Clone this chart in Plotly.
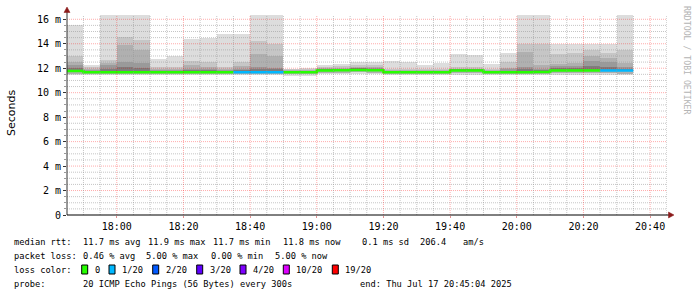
import plotly.graph_objects as go
import pandas as pd

# ---------------- data ----------------
day = "2025-07-17"
slot_start = ["17:45", "17:50", "17:55", "18:00", "18:05", "18:10", "18:15", "18:20",
              "18:25", "18:30", "18:35", "18:40", "18:45", "18:50", "18:55", "19:00",
              "19:05", "19:10", "19:15", "19:20", "19:25", "19:30", "19:35", "19:40",
              "19:45", "19:50", "19:55", "20:00", "20:05", "20:10", "20:15", "20:20",
              "20:25", "20:30"]

# smoke levels (milliseconds), outermost to innermost
ping_max = [15.51, 12.24, 17.5, 17.5, 17.5, 12.78, 13.00, 14.42, 14.50, 14.80, 14.80, 17.5,
            17.5, 11.96, 12.00, 12.30, 12.37, 12.50, 12.50, 12.57, 12.50, 12.24, 12.43,
            13.16, 13.06, 12.37, 13.22, 17.5, 17.5, 14.00, 14.00, 14.00, 14.00, 17.5]
ping_p2 = [12.97, 12.10, 12.70, 14.55, 14.28, 12.10, 12.10, 12.57, 12.50, 12.10, 12.50, 14.23,
           13.96, 11.90, 11.90, 12.10, 12.15, 12.30, 12.30, 11.95, 11.95, 11.95, 11.95,
           12.10, 12.10, 11.95, 12.50, 13.96, 13.96, 13.19, 13.27, 13.46, 13.22, 13.50]
ping_p3 = [12.50, 11.95, 12.45, 13.87, 13.50, 11.95, 11.95, 12.24, 12.10, 11.95, 12.15, 13.16,
           13.00, 11.85, 11.85, 12.00, 12.00, 12.10, 12.10, 11.85, 11.85, 11.85, 11.85,
           11.97, 11.97, 11.85, 12.05, 13.33, 12.24, 12.37, 12.43, 13.00, 12.80, 12.43]
ping_p4 = [12.30, 11.85, 12.24, 12.51, 12.43, 11.85, 11.85, 11.95, 11.95, 11.85, 11.95, 12.10,
           12.05, 11.80, 11.80, 11.95, 11.95, 12.00, 12.00, 11.80, 11.80, 11.80, 11.80,
           11.92, 11.92, 11.80, 11.90, 12.10, 11.95, 12.15, 12.15, 12.57, 12.50, 12.10]
ping_p5 = [12.00, 11.80, 11.95, 12.10, 12.05, 11.80, 11.80, 11.85, 11.85, 11.80, 11.85, 11.95,
           11.90, 11.75, 11.75, 11.90, 11.90, 11.95, 11.95, 11.75, 11.75, 11.75, 11.75,
           11.88, 11.88, 11.75, 11.80, 11.90, 11.85, 12.00, 12.00, 12.16, 12.10, 11.95]
ping_low = [11.55, 11.55, 11.55, 11.55, 11.55, 11.55, 11.55, 11.55, 11.55, 11.55, 11.55, 11.55,
            11.55, 11.52, 11.52, 11.62, 11.62, 11.65, 11.62, 11.55, 11.55, 11.55, 11.55,
            11.60, 11.60, 11.55, 11.55, 11.55, 11.55, 11.60, 11.60, 11.60, 11.60, 11.55]
ping_min = [11.42, 11.42, 11.42, 11.42, 11.42, 11.42, 11.42, 11.42, 11.42, 11.42, 11.42, 11.42,
            11.42, 11.38, 11.38, 11.50, 11.50, 11.52, 11.52, 11.42, 11.42, 11.42, 11.42,
            11.45, 11.45, 11.42, 11.42, 11.42, 11.42, 11.45, 11.45, 11.45, 11.45, 11.42]
median_rtt = [11.77, 11.68, 11.68, 11.68, 11.68, 11.68, 11.68, 11.68, 11.68, 11.68, 11.68, 11.68,
              11.68, 11.68, 11.66, 11.82, 11.84, 11.86, 11.84, 11.68, 11.68, 11.68, 11.68,
              11.81, 11.81, 11.68, 11.68, 11.68, 11.70, 11.81, 11.81, 11.81, 11.81, 11.81]
loss_count = [0, 0, 0, 0, 0, 0, 0, 0, 0, 0, 1, 1,
              1, 0, 0, 0, 0, 0, 0, 0, 0, 0, 0,
              0, 0, 0, 0, 0, 0, 0, 0, 0, 1, 1]

smoke_colors = ["#dddddd", "#c6c6c6", "#b0b0b0", "#9a9a9a", "#7e7e7e"]

loss_levels = [0, 1, 2, 3, 4, 10, 19]
loss_labels = ["0", "1/20", "2/20", "3/20", "4/20", "10/20", "19/20"]
loss_colors = ["#26ff00", "#00b8ff", "#0059ff", "#5e00ff", "#7e00ff", "#dd00ff", "#ff0000"]

y_tick_vals = [0, 2, 4, 6, 8, 10, 12, 14, 16]
y_tick_text = ["0", "2 m", "4 m", "6 m", "8 m", "10 m", "12 m", "14 m", "16 m"]

stats_line1 = ["median rtt:", "11.7 ms avg", "11.9 ms max", "11.7 ms min", "11.8 ms now",
               "0.1 ms sd", "206.4", "am/s"]
stats_line2 = ["packet loss:", "0.46 % avg", "5.00 % max", "0.00 % min", "5.00 % now"]
probe_line = ["probe:", "20 ICMP Echo Pings (56 Bytes) every 300s", "end: Thu Jul 17 20:45:04 2025"]

# ---------------- layout helpers ----------------
W, H = 697, 297
L, R, T, B = 67, 30, 15, 82
PW, PH = W - L - R, H - T - B


def px(xp):
    return (xp - L) / PW


def py(yp):
    return (H - B - yp) / PH


starts = pd.to_datetime([f"{day} {s}" for s in slot_start])
step = pd.Timedelta(minutes=5)
centers = starts + step / 2
x_start = pd.Timestamp(f"{day} 17:45:04")
x_end = pd.Timestamp(f"{day} 20:45:04")

fig = go.Figure()

# smoke layers
layers = [(ping_min, ping_max), (ping_low, ping_p2), (ping_low, ping_p3),
          (median_rtt, ping_p4), (median_rtt, ping_p5)]
for (lo, hi), col in zip(layers, smoke_colors):
    fig.add_trace(go.Bar(
        x=centers, base=lo, y=[h - l for h, l in zip(hi, lo)],
        width=step.total_seconds() * 1000,
        marker=dict(color=col, line=dict(width=0)),
        hoverinfo="skip", showlegend=False))

# median line coloured by loss
n = len(starts)
for lvl, col in zip(loss_levels, loss_colors):
    xs, ys = [], []
    i = 0
    while i < n:
        if loss_count[i] == lvl:
            j = i
            while j + 1 < n and loss_count[j + 1] == lvl:
                j += 1
            for k in range(i, j + 1):
                xs.append(starts[k])
                ys.append(median_rtt[k])
            xs.append(starts[j] + step)
            ys.append(median_rtt[j])
            xs.append(None)
            ys.append(None)
            i = j + 1
        else:
            i += 1
    if xs:
        fig.add_trace(go.Scatter(x=xs, y=ys, mode="lines", line=dict(color=col, width=2.5, shape="hv"),
                                 hoverinfo="skip", showlegend=False, connectgaps=False))

shapes = []
# grid (drawn above the smoke like rrdtool)
minor_c = "rgba(150,150,150,0.55)"
major_c = "rgba(255,0,0,0.33)"
dash = "1px,1px"
yv = 0.5
while yv <= 16.3:
    if abs(yv % 2) > 1e-9:
        shapes.append(dict(type="line", xref="paper", yref="y", x0=0, x1=1, y0=yv, y1=yv,
                           line=dict(color=minor_c, width=1, dash=dash), layer="above"))
    yv += 0.5
for v in y_tick_vals[1:]:
    shapes.append(dict(type="line", xref="paper", yref="y", x0=0, x1=1, y0=v, y1=v,
                       line=dict(color=major_c, width=1, dash=dash), layer="above"))
t = pd.Timestamp(f"{day} 17:50")
while t <= x_end:
    major = (t.minute % 20 == 0)
    shapes.append(dict(type="line", xref="x", yref="paper", x0=t, x1=t, y0=0, y1=1,
                       line=dict(color=major_c if major else minor_c, width=1, dash=dash),
                       layer="above"))
    t += step

# axis extensions and arrows
axis_c = "#333333"
arrow_c = "#8b1a1a"
shapes.append(dict(type="line", xref="paper", yref="paper", x0=0, x1=0, y0=0, y1=py(11),
                   line=dict(color=axis_c, width=1), layer="above"))
shapes.append(dict(type="line", xref="paper", yref="paper", x0=0, x1=px(670), y0=0, y1=0,
                   line=dict(color="#000000", width=1), layer="above"))
shapes.append(dict(type="path", xref="paper", yref="paper",
                   path=f"M {px(64)} {py(12.5)} L {px(70)} {py(12.5)} L {px(67)} {py(7)} Z",
                   fillcolor=arrow_c, line=dict(color=arrow_c, width=0.5), layer="above"))
shapes.append(dict(type="path", xref="paper", yref="paper",
                   path=f"M {px(668.5)} {py(212)} L {px(668.5)} {py(218)} L {px(674)} {py(215)} Z",
                   fillcolor=arrow_c, line=dict(color=arrow_c, width=0.5), layer="above"))

# loss colour boxes
box_left = [81.7, 109.0, 152.7, 196.7, 240.0, 283.3, 332.3]
label_left = [92.7, 120.0, 163.7, 207.7, 251.0, 294.3, 343.3]
for bx, col in zip(box_left, loss_colors):
    shapes.append(dict(type="rect", xref="paper", yref="paper",
                       x0=px(bx), x1=px(bx + 6), y0=py(265), y1=py(274),
                       fillcolor=col, line=dict(color="#000000", width=1)))

annotations = []
mono = "DejaVu Sans Mono"
lf = dict(family=mono, size=8.7, color="#000000")


def text_at(x, y, s, font=lf, **kw):
    annotations.append(dict(text=s, xref="paper", yref="paper", x=px(x), y=py(y),
                            xanchor="left", yanchor="middle", showarrow=False, font=font, **kw))


line1_x = [12.3, 80.7, 145.7, 211.0, 280.7, 360.0, 418.3, 460.7]
for xx, s in zip(line1_x, stats_line1):
    text_at(xx, 241.5, s)
line2_x = [12.3, 80.7, 144.3, 209.3, 273.3]
for xx, s in zip(line2_x, stats_line2):
    text_at(xx, 255.8, s)
text_at(12.3, 269.6, "loss color:")
for xx, s in zip(label_left, loss_labels):
    text_at(xx, 269.6, s)
probe_x = [12.3, 80.7, 358.3]
for xx, s in zip(probe_x, probe_line):
    text_at(xx, 283.8, s)

# y axis title and watermark
annotations.append(dict(text="Seconds", xref="paper", yref="paper", x=px(11), y=py(113),
                        xanchor="center", yanchor="middle", textangle=-90, showarrow=False,
                        font=dict(family="DejaVu Sans", size=11, color="#000000")))
annotations.append(dict(text="RRDTOOL / TOBI OETIKER", xref="paper", yref="paper", x=px(687), y=py(60),
                        xanchor="center", yanchor="middle", textangle=90, showarrow=False,
                        font=dict(family=mono, size=8.2, color="#b4b4b4")))

fig.update_layout(
    width=W, height=H,
    margin=dict(l=L, r=R, t=T, b=B, pad=0),
    paper_bgcolor="#ffffff", plot_bgcolor="#ffffff",
    barmode="overlay", bargap=0, showlegend=False,
    shapes=shapes, annotations=annotations,
    xaxis=dict(type="date", range=[x_start, x_end], tickformat="%H:%M",
               tick0=f"{day} 18:00", dtick=20 * 60 * 1000, showgrid=False, zeroline=False,
               showline=False, ticks="outside", ticklen=2, tickcolor="#e09090",
               tickfont=dict(family=mono, size=10, color="#000000")),
    yaxis=dict(range=[0, 16.35], tickvals=y_tick_vals, ticktext=y_tick_text, showgrid=False,
               zeroline=False, showline=False, ticks="outside", ticklen=3, tickcolor=axis_c,
               tickfont=dict(family=mono, size=10, color="#000000"),
               minor=dict(dtick=0.5, ticks="outside", ticklen=2, tickcolor="#999999", showgrid=False)),
)

fig.write_html("out.html")
